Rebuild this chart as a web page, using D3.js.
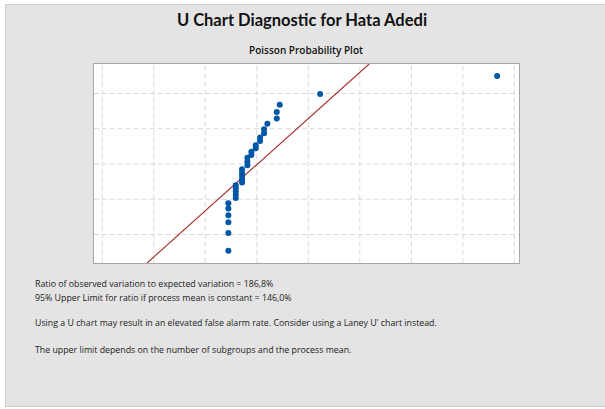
<!DOCTYPE html>
<html>
<head>
<meta charset="utf-8">
<title>U Chart Diagnostic</title>
<script src="https://d3js.org/d3.v7.min.js"></script>
<style>
  html, body { margin: 0; padding: 0; background: #fff; }
  svg { display: block; font-family: "Open Sans", "Noto Sans", sans-serif; }
</style>
</head>
<body>
<svg id="chart"></svg>
<script>
const obsX = [2.458, 2.458, 2.458, 2.458, 2.458, 2.458,
              2.602, 2.602, 2.602, 2.602, 2.602,
              2.724, 2.724, 2.724, 2.724, 2.724,
              2.827, 2.827, 2.827,
              2.905, 2.905,
              2.990, 2.990,
              3.074, 3.074,
              3.151, 3.151,
              3.216,
              3.398, 3.398,
              3.456,
              4.239,
              7.676];
const scoreY = [0.526, 1.03, 1.33, 1.53, 1.72, 1.87,
                2.02, 2.11, 2.21, 2.30, 2.38,
                2.46, 2.55, 2.65, 2.74, 2.84,
                2.95, 3.05, 3.16,
                3.24, 3.33,
                3.43, 3.52,
                3.64, 3.74,
                3.86, 3.97,
                4.13,
                4.28, 4.46,
                4.67,
                4.97,
                5.48];
// reference (expected Poisson) line end points
const fitX = [0.88, 5.19];
const fitY = [0.177, 5.823];
const xTicks = [0, 1, 2, 3, 4, 5, 6, 7, 8];
const yTicks = [1, 2, 3, 4, 5];

const title = "U Chart Diagnostic for Hata Adedi";
const subtitle = "Poisson Probability Plot";
const notes = [
  {text: "Ratio of observed variation to expected variation = 186,8%", y: 287},
  {text: "95% Upper Limit for ratio if process mean is constant = 146,0%", y: 301},
  {text: "Using a U chart may result in an elevated false alarm rate. Consider using a Laney U' chart instead.", y: 326},
  {text: "The upper limit depends on the number of subgroups and the process mean.", y: 353}
];

const width = 605, height = 409;
const plot = {left: 94, right: 519, top: 64, bottom: 263};

const svg = d3.select("#chart").attr("width", width).attr("height", height);

// gray panel
svg.append("rect")
  .attr("x", 5.5).attr("y", 4.5)
  .attr("width", width).attr("height", 402)
  .attr("fill", "#e4e4e4").attr("stroke", "#cfcfcf");

svg.append("text")
  .attr("x", 302).attr("y", 26)
  .attr("text-anchor", "middle")
  .attr("font-family", "Lato, 'Open Sans', sans-serif")
  .attr("font-size", 16.5).attr("font-weight", 700)
  .attr("fill", "#111")
  .text(title);

svg.append("text")
  .attr("x", 306).attr("y", 54)
  .attr("text-anchor", "middle")
  .attr("font-size", 10).attr("font-weight", 600)
  .attr("fill", "#111")
  .text(subtitle);

const x = d3.scaleLinear().domain([-0.15, 8.10]).range([plot.left, plot.right]);
const y = d3.scaleLinear().domain([0.177, 5.823]).range([plot.bottom, plot.top]);

svg.append("rect")
  .attr("x", plot.left).attr("y", plot.top)
  .attr("width", plot.right - plot.left).attr("height", plot.bottom - plot.top)
  .attr("fill", "#fff");

// dashed grid
svg.append("g")
  .attr("transform", `translate(0,${plot.bottom})`)
  .call(d3.axisBottom(x).tickValues(xTicks).tickSize(-(plot.bottom - plot.top)).tickFormat(""))
  .call(g => g.select(".domain").remove())
  .call(g => g.selectAll("line").attr("stroke", "#d9d9d9").attr("stroke-dasharray", "5,3"));

svg.append("g")
  .attr("transform", `translate(${plot.left},0)`)
  .call(d3.axisLeft(y).tickValues(yTicks).tickSize(-(plot.right - plot.left)).tickFormat(""))
  .call(g => g.select(".domain").remove())
  .call(g => g.selectAll("line").attr("stroke", "#d9d9d9").attr("stroke-dasharray", "5,3"));

// fitted line, clipped to plot area
svg.append("clipPath").attr("id", "clip")
  .append("rect")
  .attr("x", plot.left).attr("y", plot.top)
  .attr("width", plot.right - plot.left).attr("height", plot.bottom - plot.top);

svg.append("path")
  .datum(fitX.map((d, i) => [d, fitY[i]]))
  .attr("clip-path", "url(#clip)")
  .attr("fill", "none")
  .attr("stroke", "#a52a2a")
  .attr("stroke-width", 1.1)
  .attr("d", d3.line().x(d => x(d[0])).y(d => y(d[1])));

svg.append("g")
  .selectAll("circle")
  .data(obsX.map((d, i) => [d, scoreY[i]]))
  .join("circle")
  .attr("cx", d => x(d[0]))
  .attr("cy", d => y(d[1]))
  .attr("r", 3)
  .attr("fill", "#0056a7");

svg.append("rect")
  .attr("x", plot.left - 0.5).attr("y", plot.top - 0.5)
  .attr("width", plot.right - plot.left + 1).attr("height", plot.bottom - plot.top + 1)
  .attr("fill", "none").attr("stroke", "#a6a6a6");

svg.append("g")
  .selectAll("text")
  .data(notes)
  .join("text")
  .attr("x", 35)
  .attr("y", d => d.y)
  .attr("font-size", 8.8)
  .attr("fill", "#222")
  .text(d => d.text);
</script>
</body>
</html>
